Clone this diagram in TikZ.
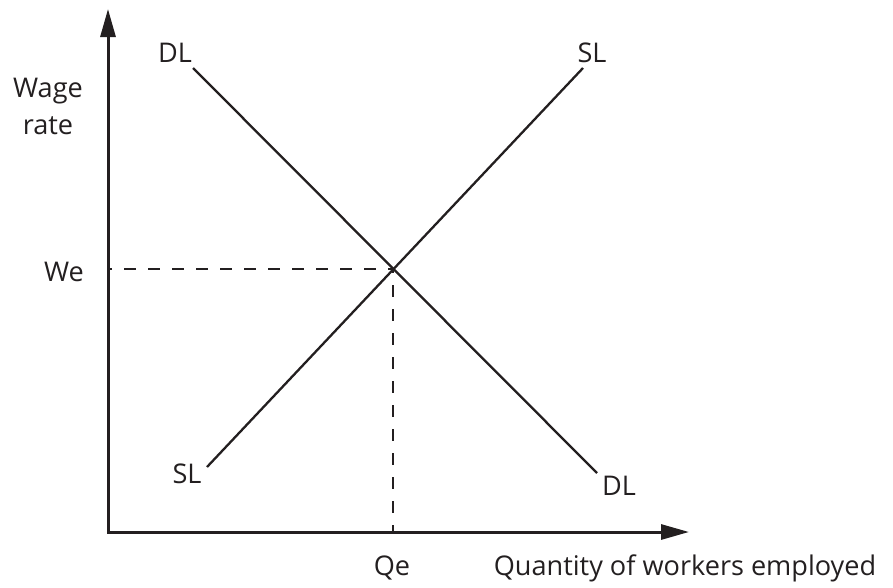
\documentclass[tikz,border=0pt]{standalone}
\usepackage{fontspec}
\setmainfont{Open Sans}
\usetikzlibrary{arrows.meta}
\definecolor{ink}{RGB}{35,31,32}
\begin{document}
\begin{tikzpicture}[x=1pt,y=-1pt,
  every node/.style={inner sep=0pt, text=ink, font=\fontsize{27.1}{33}\selectfont},
  axis/.style={line width=3pt, draw=ink, line join=miter},
  curve/.style={line width=2.3pt, draw=ink},
  guide/.style={line width=2.1pt, draw=ink, dash pattern=on 12pt off 12pt},
  lbl/.style={anchor=base}]
\useasboundingbox (0,0) rectangle (893,587);
\coordinate (O) at (108,532);
\coordinate (Ytip) at (108,9);
\coordinate (Xtip) at (689,532);
\coordinate (E) at (393,269);
\coordinate (Wax) at (108,269);
\coordinate (Qax) at (393,532);
\coordinate (DLa) at (193,68);
\coordinate (DLb) at (597,473);
\coordinate (SLa) at (207,467);
\coordinate (SLb) at (583,68);
% axes
\draw[axis, {Triangle[length=28pt,width=15pt]}-{Triangle[length=28pt,width=15pt]}] (Ytip) -- (O) -- (Xtip);
% guides
\draw[guide, dash phase=8pt] (Wax) -- (E);
\draw[guide, dash phase=8pt] (E) -- (Qax);
% curves
\draw[curve] (DLa) -- (DLb);
\draw[curve] (SLa) -- (SLb);
% labels
\node[lbl] (wage) at (48,97) {Wage};
\node[lbl] (rate) at (48,134) {rate};
\node[lbl] (we) at (64,281) {We};
\node[lbl] (qe) at (392,575) {Qe};
\node[lbl] (qty) at (685,575) {Quantity of workers employed};
\node[lbl] (dltop) at (175,62) {DL};
\node[lbl] (sltop) at (592,62) {SL};
\node[lbl] (slbot) at (187,483) {SL};
\node[lbl] (dlbot) at (619,495) {DL};
\end{tikzpicture}
\end{document}
